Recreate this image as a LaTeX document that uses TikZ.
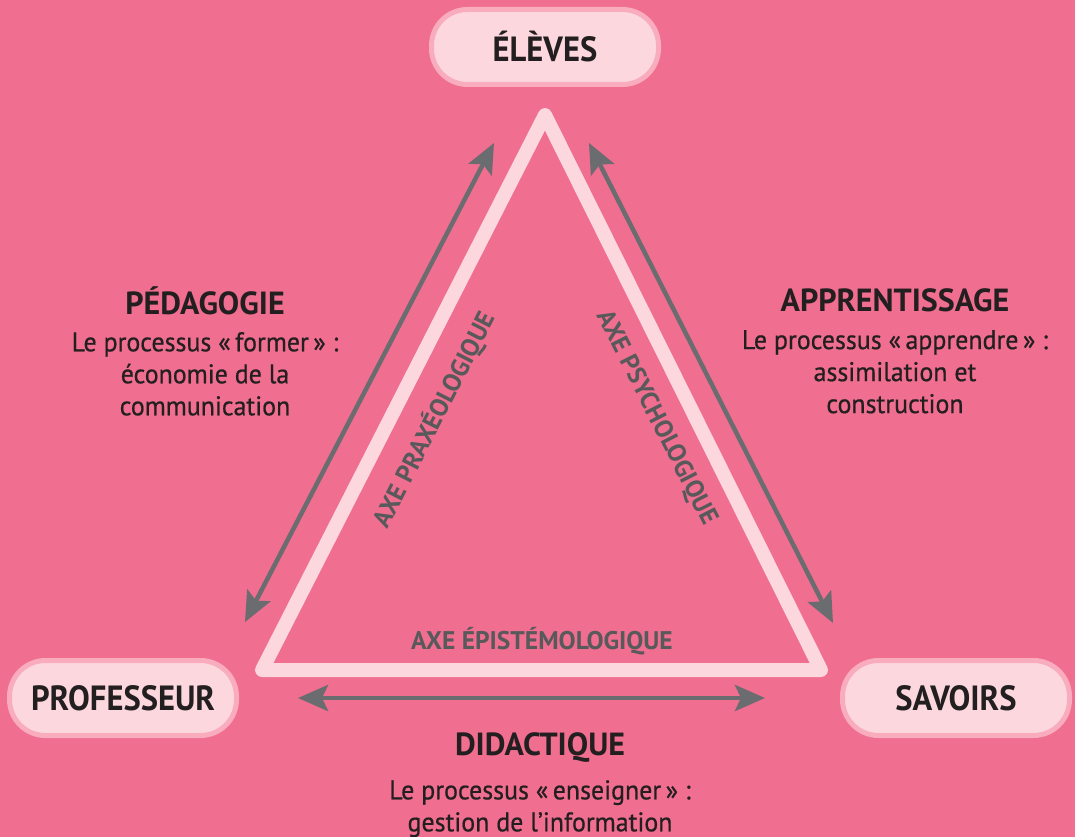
\documentclass[tikz,border=0pt]{standalone}
\usepackage{fontspec}
\setmainfont{PT Sans}
\newfontfamily\polefont[FakeStretch=0.93]{PT Sans}
\newfontfamily\subfont[FakeStretch=0.96,FakeBold=0.6]{PT Sans}
\usetikzlibrary{arrows.meta}
\definecolor{bg}{RGB}{240,110,143}
\definecolor{boxfill}{RGB}{252,216,222}
\definecolor{boxline}{RGB}{248,172,190}
\definecolor{tri}{RGB}{252,216,222}
\definecolor{arr}{RGB}{106,108,112}
\definecolor{txt}{RGB}{35,31,32}
\definecolor{axe}{RGB}{88,89,91}
\tikzset{
  pole/.style={draw=boxline, line width=5pt, fill=boxfill, rounded corners=36pt,
    minimum width=227pt, minimum height=75pt, inner sep=0pt,
    font=\polefont\bfseries\fontsize{35}{40}\selectfont, text=txt},
  head/.style={font=\bfseries\fontsize{32}{36}\selectfont, text=txt, inner sep=0pt},
  sub/.style={font=\subfont\fontsize{27}{32}\selectfont, text=txt, align=center, inner sep=0pt},
  axelbl/.style={font=\bfseries\fontsize{25.5}{30}\selectfont, text=axe, inner sep=0pt},
  triline/.style={draw=tri, line width=14pt, line join=round},
  dbl/.style={draw=arr, line width=4.5pt, {Stealth[length=30pt,width=26pt,inset=6pt]}-{Stealth[length=30pt,width=26pt,inset=6pt]}}
}
\begin{document}
\begin{tikzpicture}[x=1pt,y=-1pt]
\fill[bg] (0,0) rectangle (1075,837);
\useasboundingbox (0,0) rectangle (1075,837);
% triangle
\coordinate (A) at (545,115);
\coordinate (B) at (262,670);
\coordinate (C) at (821,670);
\draw[triline] (A) -- (B) -- (C) -- cycle;
% arrows
\coordinate (l1) at (494,143);
\coordinate (l2) at (245,622);
\coordinate (r1) at (589,143);
\coordinate (r2) at (833,623);
\coordinate (b1) at (298,698);
\coordinate (b2) at (765,698);
\draw[dbl] (l1) -- (l2);
\draw[dbl] (r1) -- (r2);
\draw[dbl] (b1) -- (b2);
% poles
\node[pole] (eleves) at (545,47) {ÉLÈVES};
\node[pole] (prof) at (123,698) {PROFESSEUR};
\node[pole] (sav) at (956,698) {SAVOIRS};
% labels
\node[head] (ped) at (205,301) {PÉDAGOGIE};
\node[sub, anchor=north] (pedt) at (205,332) {Le processus «\,former\,» :\\économie de la\\communication};
\node[head] (app) at (895,300) {APPRENTISSAGE};
\node[sub, anchor=north] (appt) at (895,330) {Le processus «\,apprendre\,» :\\assimilation et\\construction};
\node[head] (did) at (540,748) {DIDACTIQUE};
\node[sub, anchor=north] (didt) at (540,780) {Le processus «\,enseigner\,» :\\gestion de l’information};
% axes
\node[axelbl] (epi) at (542,641) {AXE ÉPISTÉMOLOGIQUE};
\node[axelbl, rotate=63] (prax) at (434,420) {AXE PRAXÉOLOGIQUE};
\node[axelbl, rotate=-63] (psy) at (656,418) {AXE PSYCHOLOGIQUE};
\end{tikzpicture}
\end{document}
